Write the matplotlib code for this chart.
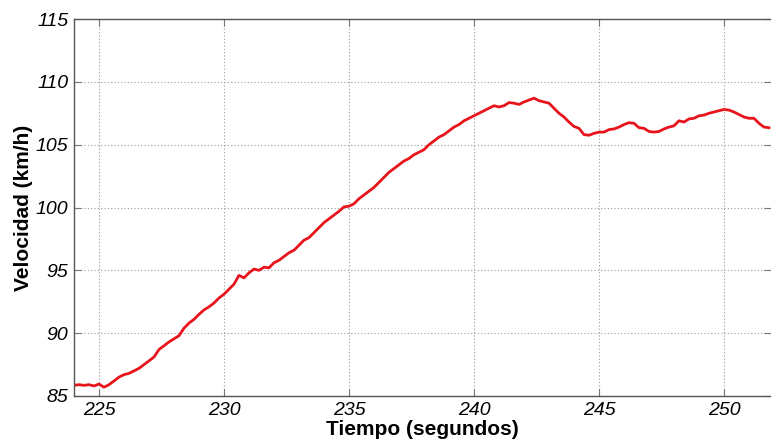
import numpy as np
import matplotlib.pyplot as plt

# time samples (s) and measured speed (km/h)
tiempo = np.round(np.arange(224.0, 251.81, 0.2), 1)
velocidad = [
    85.85, 85.9, 85.85, 85.9, 85.8, 85.95, 85.7, 85.9, 86.2, 86.5,
    86.7, 86.8, 87.0, 87.2, 87.5, 87.8, 88.1, 88.7, 89.0, 89.3,
    89.55, 89.8, 90.4, 90.8, 91.1, 91.5, 91.85, 92.1, 92.4, 92.8,
    93.1, 93.5, 93.9, 94.6, 94.4, 94.8, 95.1, 95.0, 95.25, 95.2,
    95.6, 95.8, 96.1, 96.4, 96.6, 97.0, 97.4, 97.6, 98.0, 98.4,
    98.8, 99.1, 99.4, 99.7, 100.05, 100.1, 100.3, 100.7, 101.0, 101.3,
    101.6, 102.0, 102.4, 102.8, 103.1, 103.4, 103.7, 103.9, 104.2, 104.4,
    104.6, 105.0, 105.3, 105.6, 105.8, 106.1, 106.4, 106.6, 106.9, 107.1,
    107.3, 107.5, 107.7, 107.9, 108.1, 108.0, 108.1, 108.35, 108.3, 108.2,
    108.4, 108.55, 108.7, 108.5, 108.4, 108.3, 107.9, 107.5, 107.2, 106.8,
    106.45, 106.3, 105.8, 105.75, 105.9, 106.0, 106.0, 106.2, 106.25, 106.4,
    106.6, 106.75, 106.7, 106.35, 106.3, 106.05, 106.0, 106.05, 106.25, 106.4,
    106.5, 106.9, 106.8, 107.05, 107.1, 107.3, 107.35, 107.5, 107.6, 107.7,
    107.8, 107.75, 107.6, 107.4, 107.2, 107.1, 107.1, 106.7, 106.4, 106.35,
]

xticks = [225, 230, 235, 240, 245, 250]
yticks = [85, 90, 95, 100, 105, 110, 115]

plt.rcParams['font.family'] = ['Liberation Sans', 'DejaVu Sans']

fig = plt.figure(figsize=(7.71, 4.46), dpi=100)
ax = fig.add_axes([74 / 771, 50 / 446, 697 / 771, 377 / 446])

ax.plot(tiempo, velocidad, color='#e8141c', linewidth=2)

ax.set_xlim(224, 251.88)
ax.set_ylim(85, 115)
ax.set_xticks(xticks)
ax.set_yticks(yticks)
ax.set_xticklabels([str(v) for v in xticks], fontstyle='italic', fontsize=14)
ax.set_yticklabels([str(v) for v in yticks], fontstyle='italic', fontsize=14)
ax.tick_params(direction='in', length=5, color='#777777', pad=4,
               top=True, right=True)

ax.grid(True, linestyle=(0, (1, 2)), color='#999999', linewidth=0.8)
for s in ax.spines.values():
    s.set_color('#555555')
    s.set_linewidth(1.0)
ax.spines['right'].set_visible(False)

ax.set_xlabel('Tiempo (segundos)', fontsize=15, fontweight='bold', labelpad=1)
ax.set_ylabel('Velocidad (km/h)', fontsize=15, fontweight='bold', labelpad=2)

fig.savefig('out.png', dpi=100)
